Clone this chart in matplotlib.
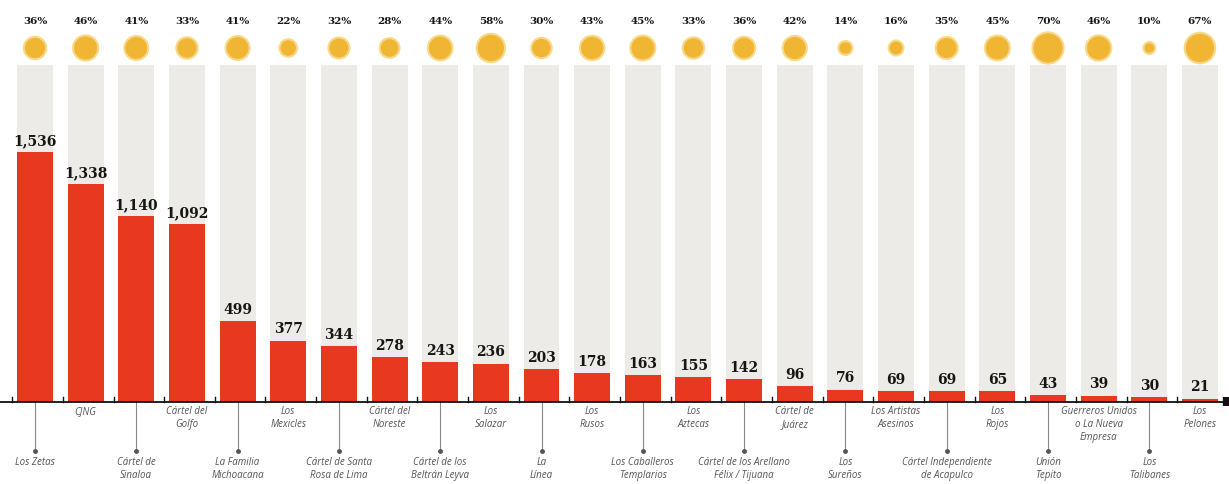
import matplotlib
matplotlib.use('Agg')
import matplotlib.pyplot as plt

# data
names = ['Los Zetas', 'CJNG', 'Cártel de\nSinaloa', 'Cártel del\nGolfo',
         'La Familia\nMichoacana', 'Los\nMexicles', 'Cártel de Santa\nRosa de Lima',
         'Cártel del\nNoreste', 'Cártel de los\nBeltrán Leyva', 'Los\nSalazar',
         'La\nLínea', 'Los\nRusos', 'Los Caballeros\nTemplarios', 'Los\nAztecas',
         'Cártel de los Arellano\nFélix / Tijuana', 'Cártel de\nJuárez',
         'Los\nSureños', 'Los Artistas\nAsesinos', 'Cártel Independiente\nde Acapulco',
         'Los\nRojos', 'Unión\nTepito', 'Guerreros Unidos\no La Nueva\nEmpresa',
         'Los\nTalibanes', 'Los\nPelones']
counts = [1536, 1338, 1140, 1092, 499, 377, 344, 278, 243, 236, 203, 178,
          163, 155, 142, 96, 76, 69, 69, 65, 43, 39, 30, 21]
pcts = [36, 46, 41, 33, 41, 22, 32, 28, 44, 58, 30, 43,
        45, 33, 36, 42, 14, 16, 35, 45, 70, 46, 10, 67]

RED = '#e8381f'
GOLD = '#f1b534'
PX = 6.144            # value units per pixel


def ypx(p):
    """pixel row (from top) -> value units"""
    return (402 - p) * PX


fig = plt.figure(figsize=(12.29, 4.84), dpi=100)
ax = fig.add_axes([0, 0, 1, 1])
ax.set_xlim(-35 / 50.65, (1229 - 35) / 50.65)
ax.set_ylim(ypx(484), ypx(0))
ax.axis('off')

x = list(range(len(counts)))
W = 0.71

# grey columns behind the bars
ax.bar(x, [ypx(65)] * len(x), width=W, color='#ecebe8', zorder=1)
ax.bar(x, counts, width=W, color=RED, zorder=2)

for i, v in enumerate(counts):
    ax.annotate(f'{v:,}', (i, v), xytext=(0, 3), textcoords='offset points',
                ha='center', va='bottom', fontsize=10, fontweight='bold',
                family='DejaVu Serif', color='#151515', zorder=4)

# circles + percentages on top
ax.scatter(x, [ypx(48)] * len(x), s=[p * 7.2 for p in pcts], color=GOLD,
           edgecolors='#f7d98a', linewidths=1.5, zorder=3)
for i, p in enumerate(pcts):
    ax.text(i, ypx(22), f'{p}%', ha='center', va='center', fontsize=7.5,
            fontweight='bold', family='DejaVu Serif', color='#151515')

# baseline with small ticks between bars
ax.axhline(0, color='#111111', lw=1.3, zorder=5)
for i in range(len(x)):
    ax.plot([i - 0.45, i - 0.45], [0, ypx(397)], color='#111111', lw=1, zorder=5)
ax.plot([23.53, 23.53], [ypx(397), ypx(406)], color='#111111', lw=6,
        solid_capstyle='butt', zorder=5)

# category labels, alternating near / far with leader lines
for i, n in enumerate(names):
    if i % 2:
        ax.text(i, ypx(406), n, ha='center', va='top', fontsize=7,
                style='italic', family='Open Sans', color='#555555',
                linespacing=1.25)
    else:
        ax.plot([i, i], [0, ypx(451)], color='#888888', lw=0.8, zorder=1)
        ax.plot(i, ypx(451), 'o', ms=2.5, color='#555555')
        ax.text(i, ypx(457), n, ha='center', va='top', fontsize=7,
                style='italic', family='Open Sans', color='#555555',
                linespacing=1.25)

fig.savefig('out.png', dpi=100, facecolor='white')
